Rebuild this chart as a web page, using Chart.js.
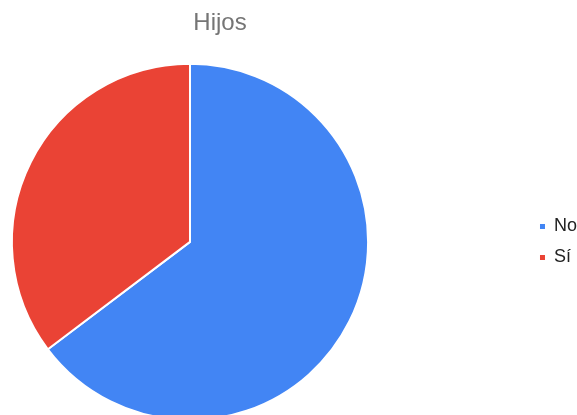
<!DOCTYPE html>
<html lang="es">
<head>
    <meta charset="UTF-8">
    <meta name="viewport" content="width=device-width, initial-scale=1.0">
    <style>
        body{
            margin: 0;
            background: #fff;
            overflow: hidden;
            width: 577px;
            height: 415px;
            position: relative;
        }
        #canvas{
            position: absolute;
            left: -147px;
            top: 0;
        }
    </style>
    <title>Hijos</title>
</head>
<body>
    <canvas id="canvas" width="734" height="421"></canvas>

    <script src="https://cdn.jsdelivr.net/npm/chart.js@4.4.0/dist/chart.umd.min.js"></script>
    <script>
    var categories = ['No', 'Sí'];
    var values = [11, 6];
    var colors = ['#4285f4', '#ea4335'];
    var chartTitle = 'Hijos';

    var ctx = document.getElementById('canvas').getContext('2d');
    var myChart = new Chart(ctx, {
        type: 'pie',
        data: {
            labels: categories,
            datasets: [{
                data: values,
                backgroundColor: colors,
                borderColor: '#ffffff',
                borderWidth: 2,
                hoverBorderWidth: 2,
                hoverOffset: 0
            }]
        },
        options: {
            responsive: false,
            animation: false,
            layout: { padding: 0 },
            plugins: {
                title: {
                    display: true,
                    text: chartTitle,
                    color: '#757575',
                    font: { family: "'Liberation Sans', Arial, sans-serif", size: 24, weight: 'normal' },
                    padding: { top: 9, bottom: 25 }
                },
                legend: {
                    position: 'right',
                    fullSize: false,
                    labels: {
                        color: '#222222',
                        font: { family: "'Liberation Sans', Arial, sans-serif", size: 18 },
                        boxWidth: 5,
                        boxHeight: 5,
                        padding: 13,
                        generateLabels: function(chart){
                            var items = Chart.overrides.pie.plugins.legend.labels.generateLabels(chart);
                            items.forEach(function(it){ it.lineWidth = 0; });
                            return items;
                        }
                    }
                },
                tooltip: { enabled: false }
            }
        }
    });
    </script>
</body>
</html>
